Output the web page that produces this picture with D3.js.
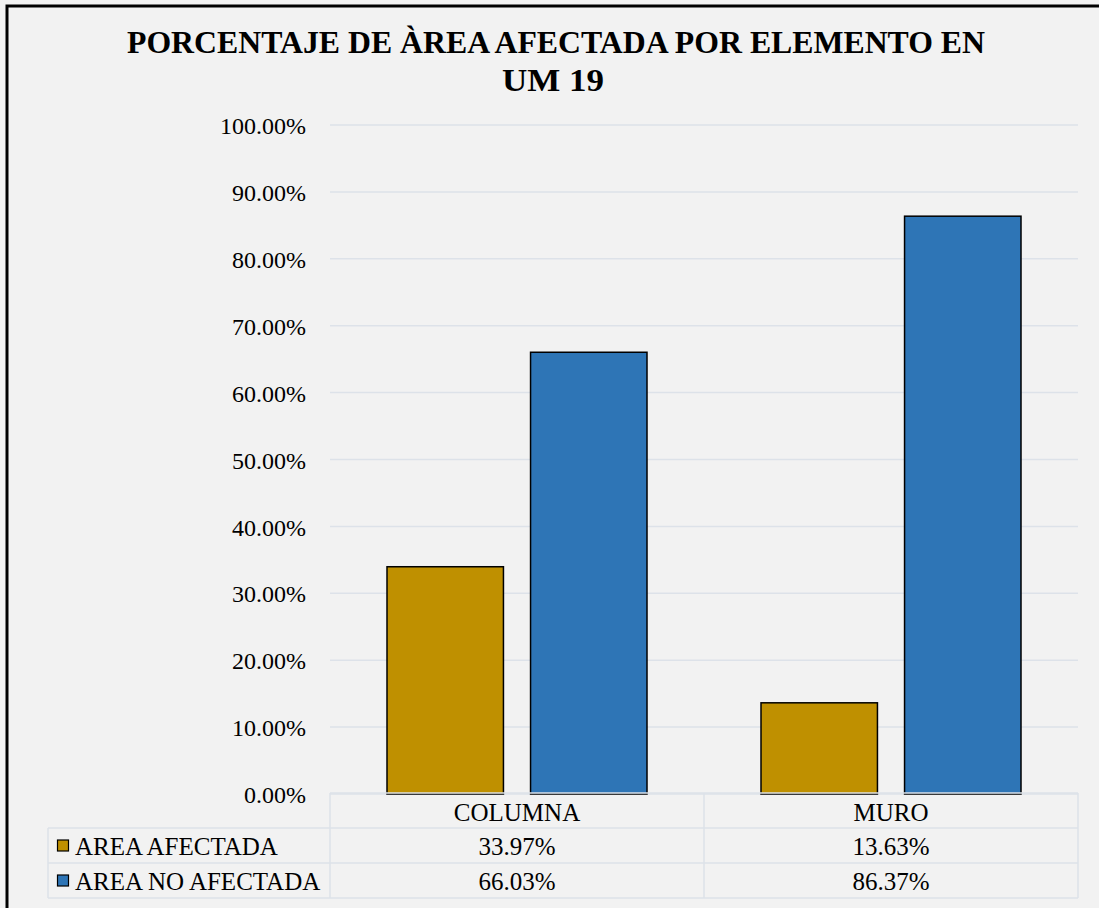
<!DOCTYPE html>
<html>
<head>
<meta charset="utf-8">
<script src="https://cdn.jsdelivr.net/npm/d3@7"></script>
<style>
  html, body { margin: 0; padding: 0; background: #f2f2f2; }
  svg { display: block; }
  svg text { font-family: "Liberation Serif", "Times New Roman", serif !important; fill: #000; }
</style>
</head>
<body>
<script>
const categories = ["COLUMNA", "MURO"];
const seriesNames = ["AREA AFECTADA", "AREA NO AFECTADA"];
const areaAfectada = [33.97, 13.63];
const areaNoAfectada = [66.03, 86.37];
const yTicks = [0, 10, 20, 30, 40, 50, 60, 70, 80, 90, 100];
const titleLines = ["PORCENTAJE DE ÀREA AFECTADA POR ELEMENTO EN", "UM 19"];
const colors = ["#BF9000", "#2E75B6"];

const W = 1099, H = 908;
const seriesValues = [areaAfectada, areaNoAfectada];
const FS = 25;

const svg = d3.select("body").append("svg").attr("width", W).attr("height", H)
  .attr("font-family", "Liberation Serif");

svg.append("rect").attr("x", 0).attr("y", 0).attr("width", W).attr("height", H).attr("fill", "#f2f2f2");
svg.append("rect").attr("x", 7).attr("y", 6).attr("width", W + 20).attr("height", H + 20)
  .attr("fill", "none").attr("stroke", "#000").attr("stroke-width", 3);

// title
svg.append("text").attr("x", 556).attr("y", 53).attr("text-anchor", "middle")
  .attr("font-size", 32).attr("font-weight", "bold")
  .attr("textLength", 858).attr("lengthAdjust", "spacingAndGlyphs")
  .text(titleLines[0]);
svg.append("text").attr("x", 553).attr("y", 91).attr("text-anchor", "middle")
  .attr("font-size", 32).attr("font-weight", "bold")
  .attr("textLength", 102).attr("lengthAdjust", "spacingAndGlyphs")
  .text(titleLines[1]);

const plotL = 330, plotR = 1078, plotT = 125, plotB = 794;
const y = d3.scaleLinear().domain([0, 100]).range([plotB, plotT]);
const x0 = d3.scaleBand().domain(categories).range([plotL, plotR]).padding(0);
const x1 = d3.scaleBand().domain(seriesNames).range([57, x0.bandwidth() - 57]).paddingInner(27 / 143);

// gridlines
svg.append("g").selectAll("line").data(yTicks).join("line")
  .attr("x1", plotL).attr("x2", plotR)
  .attr("y1", d => y(d)).attr("y2", d => y(d))
  .attr("stroke", "#dde2e9").attr("stroke-width", 1.5);

// y axis labels
const yAxis = d3.axisLeft(y).tickValues(yTicks).tickSize(0).tickPadding(0)
  .tickFormat(d => d.toFixed(2) + "%");
const gy = svg.append("g").attr("transform", `translate(306,1)`).call(yAxis)
  .attr("font-family", "Liberation Serif").attr("font-size", FS);
gy.select(".domain").remove();
gy.selectAll("text").style("font-family", "'Liberation Serif', serif").style("font-size", "24px").attr("fill", "#000");

// bars
const groups = svg.append("g").selectAll("g").data(categories).join("g")
  .attr("transform", c => `translate(${x0(c)},0)`);
groups.selectAll("rect").data((c, i) => seriesNames.map((s, j) => ({ s, j, v: seriesValues[j][i] })))
  .join("rect")
  .attr("x", d => x1(d.s))
  .attr("width", x1.bandwidth())
  .attr("y", d => y(d.v))
  .attr("height", d => y(0) - y(d.v))
  .attr("fill", d => colors[d.j])
  .attr("stroke", "#000").attr("stroke-width", 1.5);

// data table
const rowTops = [793, 828, 863, 898];
const tableL = 48;
const tg = svg.append("g").attr("stroke", "#dde2e9").attr("stroke-width", 1.5);
tg.append("line").attr("x1", plotL).attr("x2", plotR).attr("y1", rowTops[0]).attr("y2", rowTops[0]);
[1, 2, 3].forEach(i => tg.append("line").attr("x1", tableL).attr("x2", plotR).attr("y1", rowTops[i]).attr("y2", rowTops[i]));
tg.append("line").attr("x1", tableL).attr("x2", tableL).attr("y1", rowTops[1]).attr("y2", rowTops[3]);
[plotL, x0("MURO"), plotR].forEach(xv => tg.append("line").attr("x1", xv).attr("x2", xv).attr("y1", rowTops[0]).attr("y2", rowTops[3]));

// header
svg.append("g").selectAll("text").data(categories).join("text")
  .attr("x", c => x0(c) + x0.bandwidth() / 2).attr("y", 821)
  .attr("text-anchor", "middle").attr("font-size", FS).text(c => c);

// rows
seriesNames.forEach((s, j) => {
  const base = [855, 890][j];
  const midY = (rowTops[j + 1] + rowTops[j + 2]) / 2;
  svg.append("rect").attr("x", 57.5).attr("y", midY - 5.5).attr("width", 11).attr("height", 11)
    .attr("fill", colors[j]).attr("stroke", "#000").attr("stroke-width", 1.2);
  svg.append("text").attr("x", 75).attr("y", base).attr("font-size", FS).text(s);
  svg.append("g").selectAll("text").data(categories).join("text")
    .attr("x", c => x0(c) + x0.bandwidth() / 2).attr("y", base)
    .attr("text-anchor", "middle").attr("font-size", FS)
    .text((c, i) => seriesValues[j][i].toFixed(2) + "%");
});
</script>
</body>
</html>
